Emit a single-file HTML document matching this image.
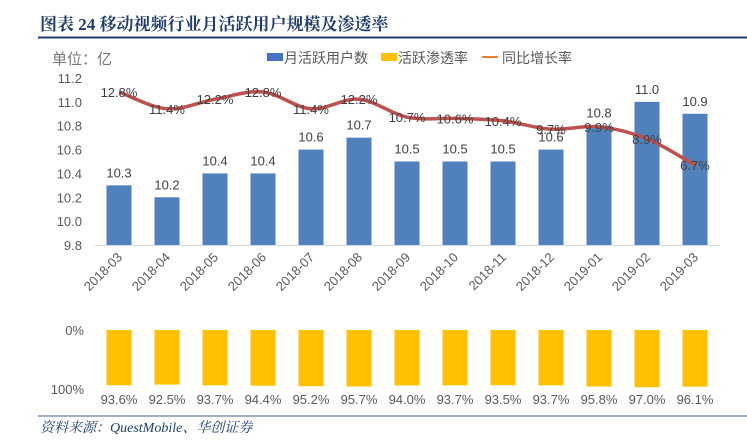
<!DOCTYPE html>
<html><head><meta charset="utf-8"><style>
body{margin:0;background:#fff;width:747px;height:439px;overflow:hidden;font-family:"Liberation Sans","Noto Sans CJK SC",sans-serif}
</style></head><body>
<svg width="747" height="439" xmlns="http://www.w3.org/2000/svg">
<text x="40" y="30" font-family="'Liberation Serif','Noto Serif CJK SC',serif" font-weight="bold" font-size="17" fill="#1f3e6e">图表 24 移动视频行业月活跃用户规模及渗透率</text>
<line x1="38" y1="37.5" x2="747" y2="37.5" stroke="#1f3e6e" stroke-width="2"/>
<text x="52" y="64" font-size="15" fill="#777">单位：亿</text>
<g font-size="14" fill="#595959">
<rect x="267" y="53" width="16" height="8" fill="#4472c4"/>
<text x="284" y="63">月活跃用户数</text>
<rect x="381" y="53" width="16" height="8" fill="#ffc000"/>
<text x="398" y="63">活跃渗透率</text>
<line x1="482" y1="57" x2="498" y2="57" stroke="#ed7d31" stroke-width="2"/>
<text x="502" y="63">同比增长率</text>
</g>
<g id="top"></g>
<g id="bot"></g>
<line x1="38" y1="416" x2="747" y2="416" stroke="#8496b0" stroke-width="1.5"/>
<text x="40" y="432" font-family="'Liberation Serif','Noto Serif CJK SC',serif" font-style="italic" font-size="14" fill="#1f3e6e">资料来源：QuestMobile、华创证券</text>
</svg>
<script>
const categories=["2018-03","2018-04","2018-05","2018-06","2018-07","2018-08","2018-09","2018-10","2018-11","2018-12","2019-01","2019-02","2019-03"];
const mau=[10.3,10.2,10.4,10.4,10.6,10.7,10.5,10.5,10.5,10.6,10.8,11.0,10.9];
const growth=[12.8,11.4,12.2,12.8,11.4,12.2,10.7,10.6,10.4,9.7,9.9,8.9,6.7];
const penetration=[93.6,92.5,93.7,94.4,95.2,95.7,94.0,93.7,93.5,93.7,95.8,97.0,96.1];
const yTicks=[9.8,10.0,10.2,10.4,10.6,10.8,11.0,11.2];
const NS="http://www.w3.org/2000/svg";
const xC=i=>119+i*48;
const yL=v=>245-(v-9.8)/1.4*167;
const yR=v=>245.6-v*12;
const yP=v=>330+v*0.59;
function mk(p,t,a){const e=document.createElementNS(NS,t);for(const k in a)e.setAttribute(k,a[k]);p.appendChild(e);return e;}
const gTop=document.getElementById('top'),gBot=document.getElementById('bot');
yTicks.forEach(t=>{const e=mk(gTop,'text',{x:82,y:yL(t)+5,'text-anchor':'end','font-size':13,fill:'#595959'});e.textContent=t.toFixed(1);

});
const ax=mk(gTop,'line',{x1:95,y1:245.5,x2:720,y2:245.5,stroke:'#d9d9d9'});


categories.forEach((c,i)=>{
 const b=mk(gTop,'rect',{x:xC(i)-12.5,y:yL(mau[i]),width:25,height:245-yL(mau[i]),fill:'#4f81bd'});
 
 
 const l=mk(gTop,'text',{x:xC(i),y:yL(mau[i])-8,'text-anchor':'middle','font-size':13,fill:'#404040'});l.textContent=mau[i].toFixed(1);
 
 
 const x=mk(gTop,'text',{x:xC(i)+4,y:258,'text-anchor':'end','font-size':13,fill:'#595959',transform:`rotate(-45 ${xC(i)+4} 258)`});x.textContent=c;
 
 
 const p=mk(gBot,'rect',{x:xC(i)-12.5,y:330,width:25,height:yP(penetration[i])-330,fill:'#ffc000'});
 
 
 const pl=mk(gBot,'text',{x:xC(i),y:404,'text-anchor':'middle','font-size':13,fill:'#595959'});pl.textContent=penetration[i].toFixed(1)+'%';
 
 
});
let d='';const pts=growth.map((v,i)=>[xC(i),yR(v)]);
pts.forEach((p,i)=>{if(i==0){d='M'+p[0]+' '+p[1];return;}const a=pts[Math.max(i-2,0)],b=pts[i-1],n=pts[Math.min(i+1,pts.length-1)];
 const c1=[b[0]+(p[0]-a[0])/6,b[1]+(p[1]-a[1])/6],c2=[p[0]-(n[0]-b[0])/6,p[1]-(n[1]-b[1])/6];d+=` C${c1[0]} ${c1[1]} ${c2[0]} ${c2[1]} ${p[0]} ${p[1]}`;});
const ln=mk(gTop,'path',{d:d,fill:'none',stroke:'#c0504d',"stroke-width":3.5});


growth.forEach((v,i)=>{const t=mk(gTop,'text',{x:xC(i),y:yR(v)+5,'text-anchor':'middle','font-size':13,fill:'#404040'});t.textContent=v.toFixed(1)+'%';

});
[[0,'0%'],[100,'100%']].forEach(([v,s])=>{const t=mk(gBot,'text',{x:84,y:yP(v)+5,'text-anchor':'end','font-size':13,fill:'#595959'});t.textContent=s;

});
</script>
</body></html>
